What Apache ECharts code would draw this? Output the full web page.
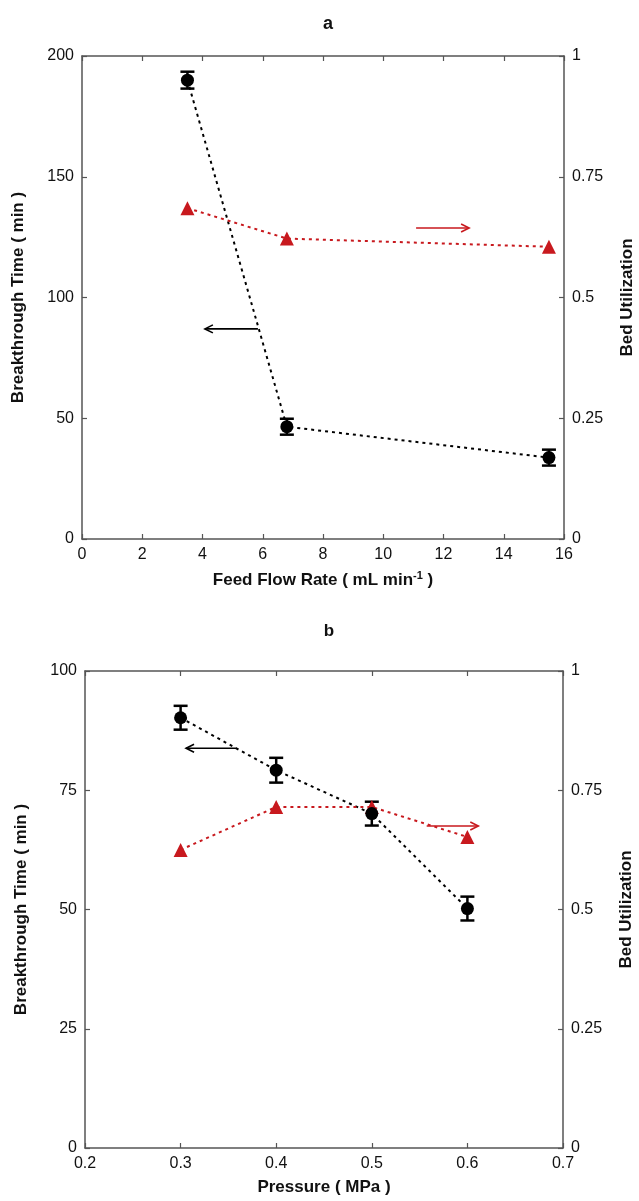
<!DOCTYPE html>
<html>
<head>
<meta charset="utf-8">
<script src="https://cdn.jsdelivr.net/npm/echarts@6/dist/echarts.min.js"></script>
<style>html,body{margin:0;padding:0;background:#fff;overflow:hidden;}#c{width:639px;height:1201px;}</style>
</head>
<body>
<div id="c"></div>
<script>
// Panel a data
const flowRate = [3.5, 6.8, 15.5];
const btA = [190, 46.5, 33.7];
const btAerr = [3.5, 3.3, 3.3];
const buA = [0.685, 0.622, 0.605];
// Panel b data
const pressure = [0.3, 0.4, 0.5, 0.6];
const btB = [90.2, 79.2, 70.1, 50.2];
const btBerr = [2.5, 2.6, 2.5, 2.5];
const buB = [0.625, 0.715, 0.715, 0.652];
// Annotation arrows [x1, y1, x2, y2]
const arrowsA_left = [[5.84, 87, 4.08, 87]];
const arrowsA_right = [[11.09, 0.644, 12.85, 0.644]];
const arrowsB_left = [[0.3587, 83.8, 0.3057, 83.8]];
const arrowsB_right = [[0.5574, 0.675, 0.6114, 0.675]];

const RED = '#c8191e';
const AXC = '#555';
const FONT = '"Liberation Sans", Arial, sans-serif';

function errRender(params, api) {
  const x = api.value(0), y = api.value(1), e = api.value(2);
  const t = api.coord([x, y + e]), b = api.coord([x, y - e]);
  const cw = 7;
  const st = {stroke: '#000', lineWidth: 2.5};
  return {type: 'group', children: [
    {type: 'line', shape: {x1: t[0], y1: t[1], x2: b[0], y2: b[1]}, style: st},
    {type: 'line', shape: {x1: t[0] - cw, y1: t[1], x2: t[0] + cw, y2: t[1]}, style: st},
    {type: 'line', shape: {x1: b[0] - cw, y1: b[1], x2: b[0] + cw, y2: b[1]}, style: st}
  ]};
}
function arrowRender(color) {
  return function (params, api) {
    const p1 = api.coord([api.value(0), api.value(1)]);
    const p2 = api.coord([api.value(2), api.value(3)]);
    const dx = p2[0] - p1[0], dy = p2[1] - p1[1];
    const L = Math.sqrt(dx * dx + dy * dy);
    const ux = dx / L, uy = dy / L;
    const hl = 8, hw = 4;
    const a = [p2[0] - ux * hl - uy * hw, p2[1] - uy * hl + ux * hw];
    const c = [p2[0] - ux * hl + uy * hw, p2[1] - uy * hl - ux * hw];
    const st = {stroke: color, lineWidth: 1.6, fill: null};
    return {type: 'group', children: [
      {type: 'line', shape: {x1: p1[0], y1: p1[1], x2: p2[0], y2: p2[1]}, style: st},
      {type: 'polyline', shape: {points: [a, p2, c]}, style: st}
    ]};
  };
}

function axisCommon(extra) {
  return Object.assign({
    axisLine: {show: true, onZero: false, lineStyle: {color: AXC, width: 1.5}},
    axisTick: {show: true, inside: true, length: 5, lineStyle: {color: AXC, width: 1.2}},
    axisLabel: {color: '#111', fontSize: 16, fontFamily: FONT},
    splitLine: {show: false},
    nameTextStyle: {color: '#111', fontSize: 17, fontWeight: 'bold', fontFamily: FONT}
  }, extra);
}

const grids = [
  {left: 82, right: 75, top: 56, height: 483, outerBoundsMode: 'none', containLabel: false},
  {left: 85, right: 76, top: 671, height: 477, outerBoundsMode: 'none', containLabel: false}
];

const option = {
  animation: false,
  backgroundColor: '#fff',
  title: [
    {text: 'a', left: 323, top: 10, textAlign: 'center', textStyle: {fontSize: 18, fontWeight: 'bold', color: '#111', fontFamily: FONT}},
    {text: 'b', left: 324, top: 618, textAlign: 'center', textStyle: {fontSize: 17, fontWeight: 'bold', color: '#111', fontFamily: FONT}}
  ],
  grid: grids,
  xAxis: [
    axisCommon({type: 'value', gridIndex: 0, min: 0, max: 16, interval: 2, position: 'bottom',
      name: 'Feed Flow Rate ( mL min{sup|-1} )', nameLocation: 'middle', nameGap: 31,
      nameTextStyle: {color: '#111', fontSize: 17, fontWeight: 'bold', fontFamily: FONT,
        rich: {sup: {fontSize: 11, fontWeight: 'bold', fontFamily: FONT, color: '#111', verticalAlign: 'top', padding: [0, 0, 10, 0]}}},
      axisLabel: {color: '#111', fontSize: 16, fontFamily: FONT, margin: 8}}),
    axisCommon({type: 'value', gridIndex: 0, min: 0, max: 16, interval: 2, position: 'top', axisLabel: {show: false}}),
    axisCommon({type: 'value', gridIndex: 1, min: 0.2, max: 0.7, interval: 0.1, position: 'bottom',
      name: 'Pressure ( MPa )', nameLocation: 'middle', nameGap: 31,
      axisLabel: {color: '#111', fontSize: 16, fontFamily: FONT, margin: 8, formatter: v => v.toFixed(1)}}),
    axisCommon({type: 'value', gridIndex: 1, min: 0.2, max: 0.7, interval: 0.1, position: 'top', axisLabel: {show: false}})
  ],
  yAxis: [
    axisCommon({type: 'value', gridIndex: 0, min: 0, max: 200, interval: 50, position: 'left',
      name: 'Breakthrough Time ( min )', nameLocation: 'middle', nameGap: 55, nameRotate: 90}),
    axisCommon({type: 'value', gridIndex: 0, min: 0, max: 1, interval: 0.25, position: 'right',
      name: 'Bed Utilization', nameLocation: 'middle', nameGap: 55, nameRotate: 90}),
    axisCommon({type: 'value', gridIndex: 1, min: 0, max: 100, interval: 25, position: 'left',
      name: 'Breakthrough Time ( min )', nameLocation: 'middle', nameGap: 55, nameRotate: 90}),
    axisCommon({type: 'value', gridIndex: 1, min: 0, max: 1, interval: 0.25, position: 'right',
      name: 'Bed Utilization', nameLocation: 'middle', nameGap: 55, nameRotate: 90})
  ],
  series: [
    // Panel a
    {type: 'line', xAxisIndex: 0, yAxisIndex: 0, data: flowRate.map((x, i) => [x, btA[i]]),
      symbol: 'none', lineStyle: {color: '#000', width: 2, type: [3, 4]}, z: 2},
    {type: 'custom', xAxisIndex: 0, yAxisIndex: 0, data: flowRate.map((x, i) => [x, btA[i], btAerr[i]]),
      renderItem: errRender, z: 3},
    {type: 'scatter', xAxisIndex: 0, yAxisIndex: 0, data: flowRate.map((x, i) => [x, btA[i]]),
      symbol: 'circle', symbolSize: 13, itemStyle: {color: '#000', opacity: 1}, z: 4},
    {type: 'line', xAxisIndex: 0, yAxisIndex: 1, data: flowRate.map((x, i) => [x, buA[i]]),
      symbol: 'triangle', symbolSize: 14, itemStyle: {color: RED, opacity: 1}, lineStyle: {color: RED, width: 2, type: [3, 4]}, z: 3},
    {type: 'custom', xAxisIndex: 0, yAxisIndex: 0, data: arrowsA_left, renderItem: arrowRender('#000'), z: 2},
    {type: 'custom', xAxisIndex: 0, yAxisIndex: 1, data: arrowsA_right, renderItem: arrowRender(RED), z: 2},
    // Panel b
    {type: 'line', xAxisIndex: 2, yAxisIndex: 2, data: pressure.map((x, i) => [x, btB[i]]),
      symbol: 'none', lineStyle: {color: '#000', width: 2, type: [3, 4]}, z: 2},
    {type: 'custom', xAxisIndex: 2, yAxisIndex: 2, data: pressure.map((x, i) => [x, btB[i], btBerr[i]]),
      renderItem: errRender, z: 3},
    {type: 'scatter', xAxisIndex: 2, yAxisIndex: 2, data: pressure.map((x, i) => [x, btB[i]]),
      symbol: 'circle', symbolSize: 13, itemStyle: {color: '#000', opacity: 1}, z: 4},
    {type: 'line', xAxisIndex: 2, yAxisIndex: 3, data: pressure.map((x, i) => [x, buB[i]]),
      symbol: 'triangle', symbolSize: 14, itemStyle: {color: RED, opacity: 1}, lineStyle: {color: RED, width: 2, type: [3, 4]}, z: 3},
    {type: 'custom', xAxisIndex: 2, yAxisIndex: 2, data: arrowsB_left, renderItem: arrowRender('#000'), z: 2},
    {type: 'custom', xAxisIndex: 2, yAxisIndex: 3, data: arrowsB_right, renderItem: arrowRender(RED), z: 2}
  ]
};
const chart = echarts.init(document.getElementById('c'), null, {renderer: 'canvas'});
chart.setOption(option);
</script>
</body>
</html>
